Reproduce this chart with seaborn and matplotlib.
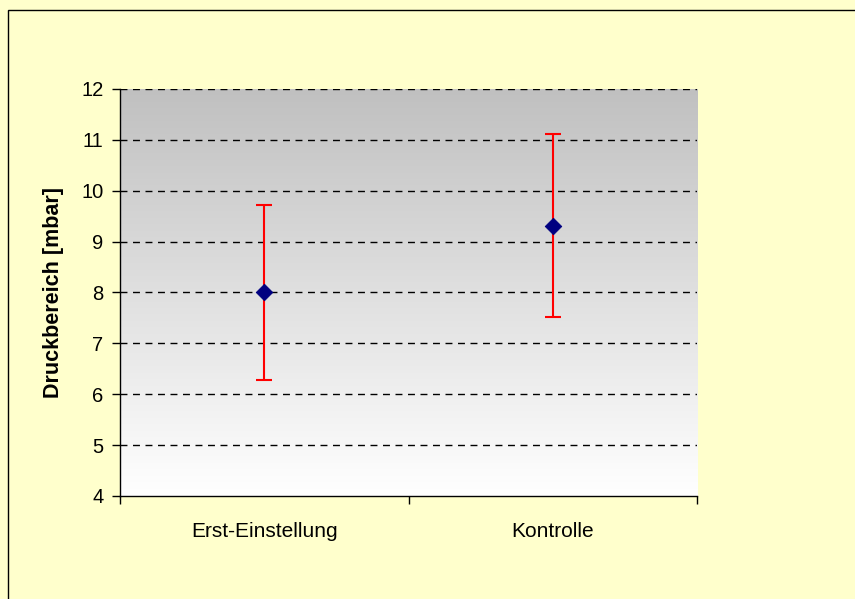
import numpy as np
import pandas as pd
import matplotlib
matplotlib.use("Agg")
import matplotlib.pyplot as plt
import seaborn as sns
from matplotlib.patches import Rectangle

# ---------- Data ----------
categories = ["Erst-Einstellung", "Kontrolle"]
means      = [8.0, 9.31]
upper      = [9.71, 11.12]
lower      = [6.28, 7.51]
y_ticks    = [4, 5, 6, 7, 8, 9, 10, 11, 12]

df = pd.DataFrame({"kategorie": categories, "wert": means})
df["pos"] = np.arange(len(categories))

# ---------- Style ----------
sns.set_style("white")
plt.rcParams["font.family"] = ["Liberation Sans", "DejaVu Sans"]
plt.rcParams["text.color"] = "black"
plt.rcParams["axes.labelcolor"] = "black"
plt.rcParams["xtick.color"] = "black"
plt.rcParams["ytick.color"] = "black"

fig = plt.figure(figsize=(8.55, 5.99), dpi=100)
fig.patch.set_facecolor("#FFFFCC")
ax = fig.add_axes([0.1404, 0.1720, 0.6749, 0.6795])

# frame round the chart area (top & left visible)
fig.patches.append(Rectangle((8 / 855, -0.05), 1.1, 1 - 10 / 599 + 0.05,
                             transform=fig.transFigure, fill=False,
                             edgecolor="black", linewidth=1.0))

# gradient background (grey top -> white bottom)
grad = np.linspace(0, 1, 256).reshape(-1, 1)
cmap = matplotlib.colors.LinearSegmentedColormap.from_list("g", ["#C0C0C0", "#FFFFFF"])
ax.imshow(grad, extent=[-0.5, 1.5, 4, 12], origin="upper", cmap=cmap,
          aspect="auto", zorder=0)

# grid
for yv in y_ticks[1:]:
    ax.axhline(yv, color="black", linestyle=(0, (5, 4)), linewidth=1.0, zorder=1)

# error bars + points
yerr = [np.array(means) - np.array(lower), np.array(upper) - np.array(means)]
ax.errorbar(df["pos"], df["wert"], yerr=yerr, fmt="none", ecolor="#FF0000",
            elinewidth=1.5, capsize=6, capthick=1.5, zorder=3)
sns.scatterplot(data=df, x="pos", y="wert", marker="D", s=70, color="#000080",
                edgecolor="#000080", ax=ax, zorder=4, legend=False)

# axes
ax.set_xlim(-0.5, 1.5)
ax.set_ylim(4, 12)
ax.set_yticks(y_ticks)
ax.set_yticklabels([str(v) for v in y_ticks], fontsize=14.5)
ax.set_xticks(df["pos"])
ax.set_xticklabels(categories, fontsize=15)
ax.set_xticks([-0.5, 0.5, 1.5], minor=True)
ax.tick_params(axis="x", which="major", length=0, pad=19)
ax.tick_params(axis="x", which="minor", length=6, width=1, color="black",
               direction="out", bottom=True)
ax.tick_params(axis="y", length=6, width=1, color="black", direction="out",
               left=True, pad=6)
ax.set_xlabel("")
ax.set_ylabel("Druckbereich [mbar]", fontsize=15.5, fontweight="bold", labelpad=12)

for side in ["top", "right"]:
    ax.spines[side].set_visible(False)
for side in ["left", "bottom"]:
    ax.spines[side].set_color("black")
    ax.spines[side].set_linewidth(1.0)
    ax.spines[side].set_zorder(5)

fig.savefig("out.png", dpi=100, facecolor=fig.get_facecolor())
